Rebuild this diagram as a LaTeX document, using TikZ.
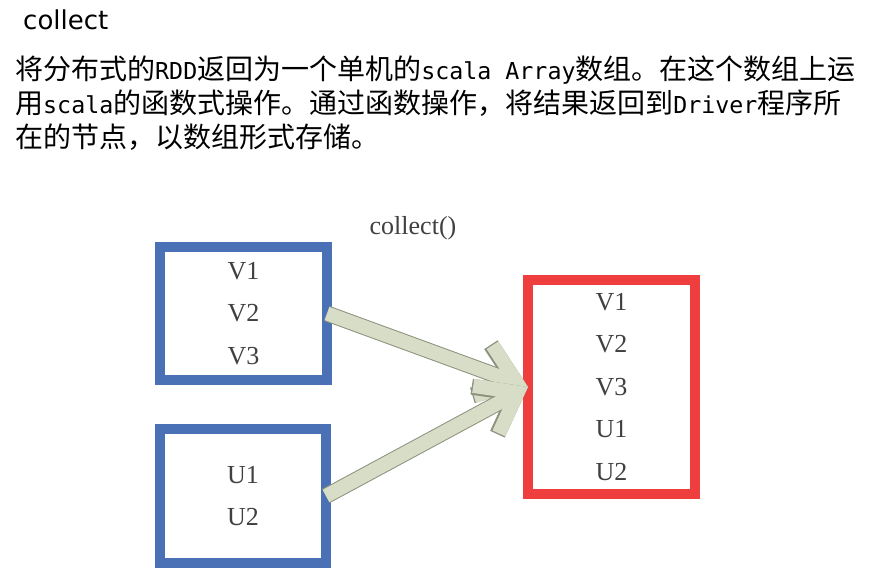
\documentclass[tikz,border=0pt]{standalone}
\usepackage{fontspec}
\usetikzlibrary{arrows.meta}
\newfontfamily\cjkfont{Noto Sans CJK SC}
\newfontfamily\halffont{DejaVu Sans Mono}
\newfontfamily\titlefont{DejaVu Sans}
\newfontfamily\boxfont{Liberation Serif}
\newcommand{\hw}[1]{{\halffont\fontsize{23.3}{28}\selectfont #1}}
\definecolor{boxblue}{RGB}{74,112,181}
\definecolor{boxred}{RGB}{238,62,62}
\definecolor{arrowbody}{RGB}{216,221,199}
\definecolor{arrowline}{RGB}{140,146,125}
\definecolor{textgray}{RGB}{64,64,64}
\tikzset{
  setbox/.style={draw,line width=10pt,outer sep=0pt,minimum width=167pt,align=center,
    font=\boxfont\fontsize{26}{42.5}\selectfont,text=textgray},
  fatedge/.style={draw=arrowline,line width=16pt,-{Straight Barb[length=36pt,width=54pt]}},
  fatbody/.style={draw=arrowbody,line width=14pt,-{Straight Barb[length=36pt,width=54pt]}},
  cjkline/.style={anchor=base west,inner sep=0pt,font=\cjkfont\fontsize{28}{34}\selectfont}
}
\begin{document}
\begin{tikzpicture}[x=1pt,y=-1pt]
    \useasboundingbox (0,0) rectangle (870,578);
    %heading
    \node (title) at (23,30)[anchor=base west,inner sep=0pt,font=\titlefont\fontsize{26}{30}\selectfont] {collect};
    \node (line1) at (15,79)[cjkline] {将分布式的\hw{RDD}返回为一个单机的\hw{scala Array}数组。在这个数组上运};
    \node (line2) at (15,113)[cjkline] {用\hw{scala}的函数式操作。通过函数操作，将结果返回到\hw{Driver}程序所};
    \node (line3) at (15,147)[cjkline] {在的节点，以数组形式存储。};
    %source partitions
    \node (vbox) at (243.5,313.5)[setbox,draw=boxblue,minimum height=133pt] {V1\\V2\\V3};
    \node (ubox) at (243,496)[setbox,draw=boxblue,minimum height=134pt,minimum width=166pt] {U1\\U2};
    %result array
    \node (all) at (611.5,387)[setbox,draw=boxred,minimum height=214pt] {V1\\V2\\V3\\U1\\U2};
    \node (op) at (413,234)[anchor=base,font=\boxfont\fontsize{26}{30}\selectfont,text=textgray] {collect()};
    %arrows
    \draw [fatedge] (vbox.east) -- (all.west);
    \draw [fatbody] (vbox.east) -- (all.west);
    \draw [fatedge] (ubox.east) -- (all.west);
    \draw [fatbody] (ubox.east) -- (all.west);
\end{tikzpicture}
\end{document}
